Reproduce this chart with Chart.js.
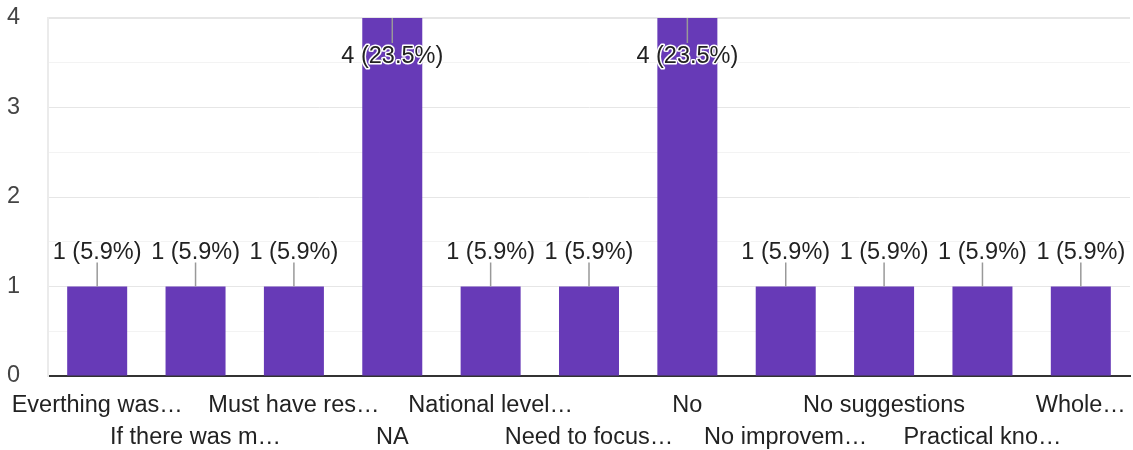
<!DOCTYPE html>
<html>
<head>
<meta charset="utf-8">
<script src="https://cdn.jsdelivr.net/npm/chart.js@4/dist/chart.umd.min.js"></script>
<style>
  html, body { margin: 0; padding: 0; background: #fff; }
  #wrap { width: 1133px; height: 450px; }
</style>
</head>
<body>
<div id="wrap"><canvas id="chart" width="1133" height="450"></canvas></div>
<script>
/* data */
const categories = ['Everthing was…', 'If there was m…', 'Must have res…', 'NA', 'National level…', 'Need to focus…',
                    'No', 'No improvem…', 'No suggestions', 'Practical kno…', 'Whole…'];
const counts     = [1, 1, 1, 4, 1, 1, 4, 1, 1, 1, 1];
const percents   = ['5.9', '5.9', '5.9', '23.5', '5.9', '5.9', '23.5', '5.9', '5.9', '5.9', '5.9'];
const yTicks     = [0, 1, 2, 3, 4];

const FONT = '"Liberation Sans", Arial, sans-serif';
const FSIZE = 23.5;

/* ── stagger labels over two rows ── */
const xLabels = categories.map((c, i) => i % 2 === 0 ? [c, ''] : ['', c]);

/* ── value labels with leader lines ── */
const valueLabels = {
    id: 'valueLabels',
    afterDatasetsDraw(chart) {
        const ctx  = chart.ctx;
        const meta = chart.getDatasetMeta(0);
        const top  = chart.chartArea.top;
        ctx.save();
        ctx.font = FSIZE + 'px ' + FONT;
        ctx.textAlign = 'center';
        ctx.textBaseline = 'middle';
        meta.data.forEach((bar, i) => {
            const x = bar.x, y = bar.y;
            const inside = y - top < 50;
            const lineEnd = inside ? y + 25 : y - 24;
            const textY   = inside ? y + 39 : y - 34;
            ctx.strokeStyle = '#999';
            ctx.lineWidth = 1.5;
            ctx.beginPath();
            ctx.moveTo(x, y);
            ctx.lineTo(x, lineEnd);
            ctx.stroke();
            const txt = `${counts[i]} (${percents[i]}%)`;
            ctx.lineJoin = 'round';
            ctx.lineWidth = 3;
            ctx.strokeStyle = '#fff';
            ctx.strokeText(txt, x, textY);
            ctx.fillStyle = '#222';
            ctx.fillText(txt, x, textY);
        });
        ctx.restore();
    }
};

new Chart(document.getElementById('chart').getContext('2d'), {
    type: 'bar',
    data: {
        labels: xLabels,
        datasets: [{
            data: counts,
            backgroundColor: '#673ab7',
            categoryPercentage: 1,
            barPercentage: 0.61
        }]
    },
    options: {
        responsive: false,
        animation: false,
        layout: { padding: { top: 18, right: 3, left: 7, bottom: 0 } },
        plugins: { legend: { display: false }, tooltip: { enabled: false } },
        scales: {
            x: {
                grid: { display: false },
                border: { color: '#333', width: 2 },
                ticks: {
                    autoSkip: false, maxRotation: 0, minRotation: 0,
                    color: '#222', padding: 6,
                    font: { family: FONT, size: FSIZE, lineHeight: 32 / FSIZE }
                },
                afterFit: s => { s.height = 74; }
            },
            y: {
                min: 0, max: 4,
                ticks: {
                    stepSize: 0.5,
                    color: '#444',
                    padding: 0,
                    crossAlign: 'far',
                    font: { family: FONT, size: FSIZE },
                    callback: v => yTicks.includes(v) ? String(v) : ''
                },
                grid: {
                    drawTicks: false,
                    color: c => (c.tick && c.tick.value % 1 === 0) ? '#e6e6e6' : '#f3f3f3',
                    lineWidth: c => (c.tick && c.tick.value === 4) ? 2 : 1
                },
                border: { color: '#ebebeb', width: 2 },
                afterFit: s => { s.width = 41; }
            }
        }
    },
    plugins: [valueLabels]
});
</script>
</body>
</html>
